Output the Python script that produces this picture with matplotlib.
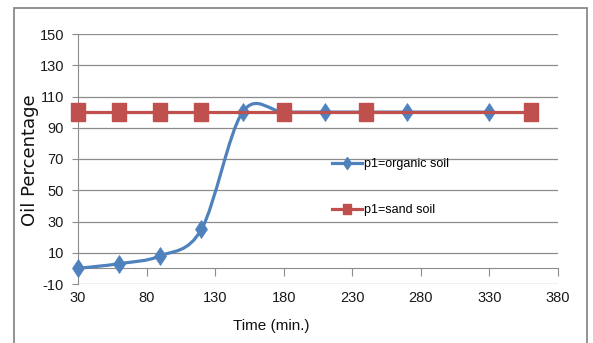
import numpy as np
import matplotlib
matplotlib.use("Agg")
import matplotlib.pyplot as plt
from matplotlib.path import Path
from matplotlib.patches import PathPatch, Rectangle
from matplotlib.lines import Line2D

plt.rcParams["axes.unicode_minus"] = False

# oil percentage over time for the two soils
organic_time = [30, 60, 90, 120, 150, 180, 210, 240, 270, 330]
organic_oil = [0, 3, 8, 25, 100, 100, 100, 100, 100, 100]
sand_time = [30, 60, 90, 120, 180, 240, 360]
sand_oil = [100, 100, 100, 100, 100, 100, 100]
x_ticks = [30, 80, 130, 180, 230, 280, 330, 380]
y_ticks = [-10, 10, 30, 50, 70, 90, 110, 130, 150]

BLUE = "#4F81BD"
RED = "#C0504D"
GRID = "#8C8C8C"
narrow = "Liberation Sans"


def smooth_path(xs, ys):
    # spreadsheet style smoothed line: cubic bezier through every point
    pts = np.column_stack([xs, ys]).astype(float)
    n = len(pts)
    verts = [pts[0]]
    codes = [Path.MOVETO]
    for i in range(n - 1):
        p_prev = pts[max(i - 1, 0)]
        p_next2 = pts[min(i + 2, n - 1)]
        c1 = pts[i] + (pts[i + 1] - p_prev) / 6
        c2 = pts[i + 1] - (p_next2 - pts[i]) / 6
        verts += [c1, c2, pts[i + 1]]
        codes += [Path.CURVE4] * 3
    return Path(verts, codes)


fig = plt.figure(figsize=(5.93, 3.43), dpi=100)
ax = fig.add_axes([78 / 593, 1 - 284 / 343, 480 / 593, 250 / 343])

ax.set_xlim(30, 380)
ax.set_ylim(-10, 150)
ax.set_xticks(x_ticks)
ax.set_yticks(y_ticks)

# horizontal grid only
for y in y_ticks:
    ax.axhline(y, color=GRID, lw=0.9, zorder=1)

for s in ["top", "right"]:
    ax.spines[s].set_visible(False)
ax.spines["left"].set_color(GRID)
ax.spines["bottom"].set_color(GRID)
ax.spines["bottom"].set_position(("data", 0))
ax.tick_params(axis="x", length=5.5, color=GRID, pad=11, labelsize=10.5, labelcolor="#1a1a1a")
ax.tick_params(axis="y", length=4, color=GRID, pad=6, labelsize=10.5, labelcolor="#1a1a1a")
for lab in ax.get_xticklabels() + ax.get_yticklabels():
    lab.set_family(narrow)

# organic soil: smoothed line plus diamond markers
ax.add_patch(PathPatch(smooth_path(organic_time, organic_oil), fill=False,
                       edgecolor=BLUE, lw=2.3, zorder=3, capstyle="round"))
ax.plot(organic_time, organic_oil, ls="none", marker="d", ms=9.5, mew=0.5, color=BLUE,
        mec=BLUE, zorder=4, clip_on=False)

# sand soil on top
rect = [(-0.4, -0.5), (0.4, -0.5), (0.4, 0.5), (-0.4, 0.5), (-0.4, -0.5)]
ax.plot(sand_time, sand_oil, color=RED, lw=2.3, marker=rect, ms=12.5, mew=1, mec=RED,
        zorder=5, clip_on=False)

handles = [
    Line2D([], [], color=BLUE, lw=2.3, marker="d", ms=6, mec=BLUE),
    Line2D([], [], color=RED, lw=2.3, marker=rect, ms=7, mec=RED),
]
leg = ax.legend(handles, ["p1=organic soil", "p1=sand soil"], loc="upper left",
                bbox_to_anchor=(332 / 593, 1 - 158 / 343), bbox_transform=fig.transFigure,
                frameon=False, borderpad=0, borderaxespad=0, handlelength=2.4,
                handletextpad=0.2, labelspacing=2.75,
                prop={"family": narrow, "size": 9})

fig.text(271 / 593, 1 - 326 / 343, "Time (min.)", ha="center", va="center",
         fontsize=11, family=narrow, color="#111111")
fig.text(30 / 593, 1 - 160 / 343, "Oil Percentage", ha="center", va="center",
         rotation=90, fontsize=13, family="DejaVu Sans", color="#111111")

# chart area border
fig.patches.append(Rectangle((14 / 593, -0.1), 573 / 593, 1.1 - 8.5 / 343,
                             transform=fig.transFigure, fill=False,
                             edgecolor="#8A8A8A", lw=1.3))

fig.savefig("out.png", dpi=100)
